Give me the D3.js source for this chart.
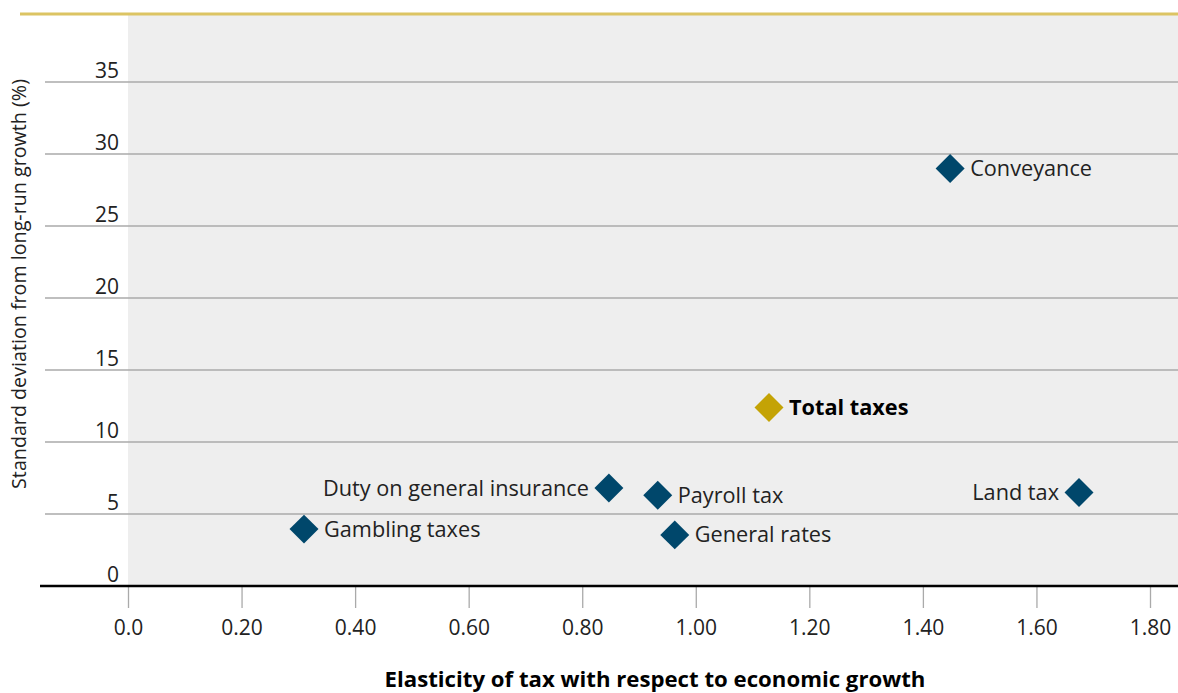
<!DOCTYPE html>
<html><head><meta charset="utf-8">
<script src="https://cdn.jsdelivr.net/npm/d3@7"></script>
<style>body{margin:0;background:#fff}svg{display:block}text{font-family:"Open Sans",Lato,sans-serif}</style>
</head><body>
<svg id="c" width="1178" height="693"></svg>
<script>
const names = ["Gambling taxes","Duty on general insurance","Payroll tax","General rates","Total taxes","Conveyance","Land tax"];
const elasticity = [0.31,0.847,0.933,0.963,1.129,1.448,1.675];
const stdDev = [3.95,6.8,6.3,3.55,12.4,29.0,6.5];
const labelSide = ["right","left","right","right","right","right","left"];
const isTotal = [false,false,false,false,true,false,false];
const xTicks = [0,0.2,0.4,0.6,0.8,1.0,1.2,1.4,1.6,1.8];
const xTickLabels = ["0.0","0.20","0.40","0.60","0.80","1.00","1.20","1.40","1.60","1.80"];
const yTicks = [0,5,10,15,20,25,30,35];

const svg = d3.select("#c");
const x = d3.scaleLinear().domain([0,1.8]).range([128,1150]);
const y = d3.scaleLinear().domain([0,35]).range([586,82]);
const plotTop = 15, plotRight = 1178;

svg.append("rect").attr("x",128).attr("y",plotTop).attr("width",plotRight-128).attr("height",586-plotTop).attr("fill","#eeeeee");

// gridlines and y labels
const gy = svg.append("g");
yTicks.filter(d=>d>0).forEach(d=>{
  gy.append("line").attr("x1",45).attr("x2",plotRight).attr("y1",y(d)).attr("y2",y(d)).attr("stroke","#aaaaaa").attr("stroke-width",1.3);
});
yTicks.forEach(d=>{
  gy.append("text").attr("x",119).attr("y",y(d)-4).attr("text-anchor","end").attr("font-size",21)
    .attr("font-family","Lato,sans-serif").attr("fill","#222").text(d);
});

// top gold line
svg.append("line").attr("x1",20).attr("x2",plotRight).attr("y1",14).attr("y2",14).attr("stroke","#dcc463").attr("stroke-width",3);

// x axis
const xAxis = d3.axisBottom(x).tickValues(xTicks).tickSize(21).tickFormat((d,i)=>xTickLabels[i]);
const gx = svg.append("g").attr("transform","translate(0,587)").call(xAxis);
gx.select(".domain").remove();
gx.selectAll(".tick line").attr("stroke","#aaaaaa").attr("stroke-width",1.3);
gx.selectAll(".tick text").attr("font-size",21).attr("fill","#222").attr("font-family","Lato,sans-serif").attr("dy","1.15em");
svg.append("line").attr("x1",40).attr("x2",plotRight).attr("y1",586).attr("y2",586).attr("stroke","#000").attr("stroke-width",2.5);

// points
const sym = d3.symbol().type(d3.symbolSquare).size(420);
const data = names.map((n,i)=>({n,x:elasticity[i],y:stdDev[i],side:labelSide[i],tot:isTotal[i]}));
const g = svg.append("g");
data.forEach(d=>{
  g.append("path").attr("d",sym()).attr("transform",`translate(${x(d.x)},${y(d.y)}) rotate(45)`)
   .attr("fill",d.tot?"#c4a305":"#00476b");
  const right = d.side==="right";
  g.append("text").attr("x",x(d.x)+(right?20:-20)).attr("y",y(d.y)).attr("dy","0.35em")
   .attr("text-anchor",right?"start":"end").attr("font-size",21.7)
   .attr("font-weight",d.tot?"bold":"normal").attr("fill",d.tot?"#000":"#222").text(d.n);
});

// axis titles
svg.append("text").attr("transform","translate(26,284) rotate(-90)").attr("text-anchor","middle")
  .attr("font-size",19.7).attr("fill","#222").text("Standard deviation from long-run growth (%)");
svg.append("text").attr("x",655).attr("y",687).attr("text-anchor","middle").attr("font-size",22.2)
  .attr("font-weight","bold").attr("fill","#000").text("Elasticity of tax with respect to economic growth");
</script>
</body></html>
